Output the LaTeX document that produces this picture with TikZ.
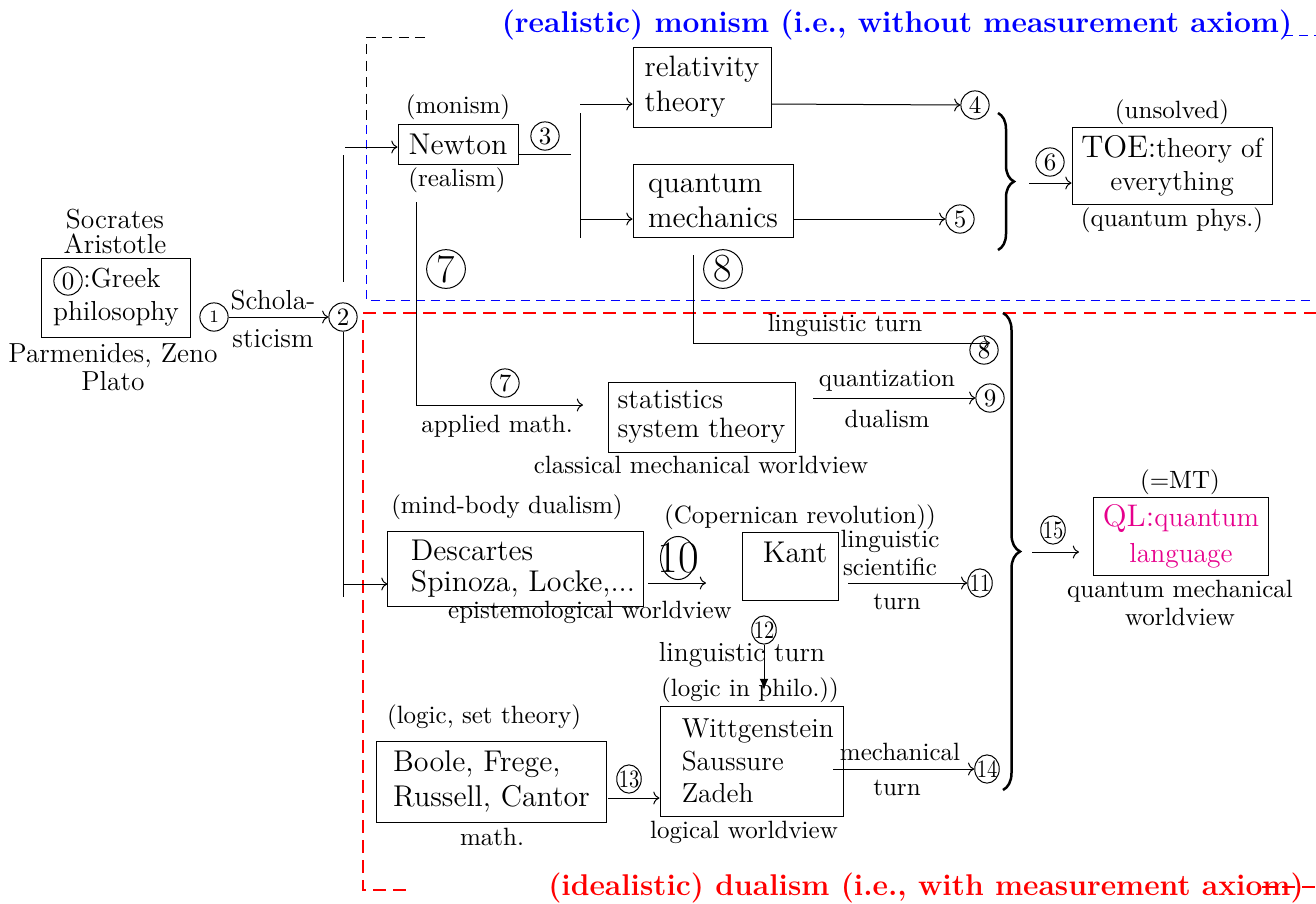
\documentclass[tikz,border=0pt]{standalone}
\usepackage{graphicx}
\usetikzlibrary{shapes.geometric,decorations.pathreplacing,arrows.meta}
\definecolor{qlpink}{RGB}{230,0,140}
\newcommand{\twodig}[1]{\makebox[0pt]{\scalebox{0.82}[1]{#1}}}
\tikzset{
 boxs/.style={draw, rectangle, inner sep=2pt, font=\fontsize{12}{14}\selectfont},
 lbl/.style={inner sep=0.5pt, font=\fontsize{10}{12}\selectfont, align=center},
 lbm/.style={inner sep=0.5pt, font=\fontsize{11}{11}\selectfont, align=center},
 cn/.style={draw, circle, inner sep=0pt, minimum size=11.3pt, font=\fontsize{10}{10}\selectfont},
 cnn/.style={draw, ellipse, inner sep=0pt, minimum width=9.8pt, minimum height=11.3pt, font=\fontsize{10}{10}\selectfont},
 bigc/.style={draw, circle, inner sep=0pt, minimum size=15.5pt, font=\fontsize{16}{16}\selectfont},
 ttl/.style={inner sep=0pt, font=\fontsize{12}{14}\selectfont\bfseries},
 bkdash/.style={dash pattern=on 4pt off 2.6pt},
 bldash/.style={blue, dash pattern=on 3.6pt off 2.4pt},
 rddash/.style={red, line width=1.1pt, dash pattern=on 5pt off 3pt},
 brc/.style={decorate, line width=1pt},
}
\begin{document}
\begin{tikzpicture}[x=0.4pt,y=-0.4pt]
\useasboundingbox (0,0) rectangle (1316,903);

% ---------- titles and region borders
\node[ttl, text=blue] (tblue) at (897,25) {(realistic) monism (i.e., without measurement axiom)};
\node[ttl, text=red] (tred) at (926,888) {(idealistic) dualism (i.e., with measurement axiom)};
\coordinate (b0) at (425,37);
\coordinate (b1) at (366,37);
\coordinate (b2) at (366,125);
\coordinate (b3) at (366,300);
\coordinate (b4) at (1316,300);
\draw[bkdash] (b0) -- (b1) -- (b2);
\draw[bldash] (b2) -- (b3) -- (b4);
\coordinate (b5) at (1284,35);
\coordinate (b6) at (1316,35);
\draw[bldash] (b5) -- (b6);
\coordinate (r0) at (1316,313);
\coordinate (r1) at (363,313);
\coordinate (r2) at (363,890);
\coordinate (r3) at (412,890);
\draw[rddash] (r0) -- (r1) -- (r2) -- (r3);
\coordinate (r4) at (1262,887);
\coordinate (r5) at (1316,887);
\draw[rddash] (r4) -- (r5);

% ---------- Greek philosophy
\node[lbm, font=\fontsize{11}{10}\selectfont] (soc) at (115,231) {Socrates\\Aristotle};
\node[boxs, align=center, font=\fontsize{11}{13.2}\selectfont, minimum width=59.2pt, minimum height=31.6pt] (greek) at (116,297.5) {\hspace*{4.8pt}:Greek\\philosophy};
\node[cn] (c0) at (68,281) {0};
\node[lbm] (par) at (113,367) {Parmenides, Zeno\\Plato};
\node[cn, font=\fontsize{7}{7}\selectfont] (c1) at (214,317) {1};
\node[cn] (c2) at (343,317) {2};
\draw[->] (c1) -- (c2);
\node[lbm] (sch) at (273,300) {Schola-};
\node[lbm] (sti) at (273,339) {sticism};

% ---------- trunk lines from 2
\coordinate (v1) at (343,155);
\coordinate (v2) at (343,282);
\draw (v1) -- (v2);
\coordinate (v3) at (343,597);
\draw (c2.south) -- (v3);
\coordinate (na) at (345,147);
\coordinate (da) at (343,584);

% ---------- Newton branch
\node[boxs, minimum width=48pt, minimum height=16pt] (newton) at (458,144) {Newton};
\draw[->] (na) -- (na -| newton.west);
\node[lbl] (monism) at (458,107) {(monism)};
\node[lbl] (realism) at (457,180) {(realism)};
\node[cn] (c3) at (545,136) {3};
\coordinate (n3) at (571,154);
\draw (newton.east |- n3) -- (n3);
\coordinate (v4) at (580,113);
\coordinate (v5) at (580,238);
\draw (v4) -- (v5);
\node[boxs, align=left, font=\fontsize{11.8}{14}\selectfont, minimum width=55.2pt, minimum height=32pt] (rel) at (702,87) {relativity\\theory};
\node[boxs, align=left, minimum width=64pt, minimum height=29.2pt] (qm) at (713,200.5) {quantum\\mechanics};
\coordinate (ra) at (580,104);
\coordinate (qa) at (580,219);
\draw[->] (ra) -- (ra -| rel.west);
\draw[->] (qa) -- (qa -| qm.west);
\node[cn] (c4) at (975,105) {4};
\node[cn] (c5) at (960,219) {5};
\draw[->] (rel.east |- ra) -- (c4.west);
\draw[->] (qm.east |- qa) -- (c5.west);
\coordinate (br1) at (998,113);
\coordinate (br2) at (998,250);
\draw[brc, decoration={brace, amplitude=6.4pt}] (br1) -- (br2);
\node[boxs, align=center, font=\fontsize{11}{13.2}\selectfont, minimum width=80pt, minimum height=30.8pt] (toe) at (1172,165.5) {{\fontsize{12.5}{13}\selectfont TOE:}theory of\\everything};
\node[lbl] (unsolved) at (1172,112) {(unsolved)};
\node[lbl] (qphys) at (1172,220) {(quantum phys.)};
\node[cn] (c6) at (1050,162) {6};
\coordinate (a6) at (1029,183);
\draw[->] (a6) -- (toe.west |- a6);

% ---------- big circled 7 and 8
\node[bigc] (big7) at (446,269) {7};
\node[bigc] (big8) at (723,269) {8};

% ---------- 7: applied math
\coordinate (s1) at (416,202);
\coordinate (s2) at (416,405);
\coordinate (s3) at (583,405);
\draw (s1) -- (s2);
\draw[->] (s2) -- (s3);
\node[cn] (c7) at (505,383) {7};
\node[lbl] (appl) at (497,426) {applied math.};

% ---------- 8: linguistic turn
\coordinate (t1) at (693,255);
\coordinate (t2) at (693,343);
\coordinate (t3) at (990,343);
\node[cn] (c8) at (984,350) {8};
\draw (t1) -- (t2);
\draw[->] (t2) -- (t3);
\node[lbl] (lt1) at (845,325) {linguistic turn};

% ---------- statistics
\node[boxs, align=left, font=\fontsize{11.2}{11.5}\selectfont, minimum width=74.8pt, minimum height=28pt] (stats) at (701.5,417) {statistics\\system theory};
\node[lbl] (cmw) at (701,465) {classical mechanical worldview};
\coordinate (q1) at (813,398);
\node[cn] (c9) at (990,398) {9};
\draw[->] (q1) -- (c9.west);
\node[lbl] (quant) at (887,381) {quantization};
\node[lbl] (dual) at (887,419) {dualism};

% ---------- big brace and QL
\coordinate (bb1) at (1003,313);
\coordinate (bb2) at (1003,790);
\draw[brc, decoration={brace, amplitude=6.8pt}] (bb1) -- (bb2);
\coordinate (a15) at (1032,552);
\coordinate (a15e) at (1079,552);
\draw[->] (a15) -- (a15e);
\node[cnn] (c15) at (1053,530) {\twodig{15}};
\node[boxs, align=center, text=qlpink, font=\fontsize{11}{14.5}\selectfont, minimum width=70pt, minimum height=31.2pt] (ql) at (1181,536) {{\fontsize{12.5}{13}\selectfont QL:}quantum\\language};
\node[lbl] (mt) at (1180,482) {(=MT)};
\node[lbl, font=\fontsize{10}{11}\selectfont] (qmw) at (1180,603) {quantum mechanical\\worldview};

% ---------- Descartes, Kant
\node[lbl] (mbd) at (507,507) {(mind-body dualism)};
\node[boxs, align=left, font=\fontsize{12}{12.5}\selectfont, minimum width=102pt, minimum height=30pt] (desc) at (515.5,568.5) {\hspace*{6pt}Descartes\\\hspace*{6pt}Spinoza, Locke,...};
\draw[->] (da) -- (da -| desc.west);
\node[lbl] (epi) at (590,612) {epistemological worldview};
\coordinate (e1) at (648,583);
\coordinate (e2) at (706,583);
\draw[->] (e1) -- (e2);
\node[draw, ellipse, inner sep=0pt, minimum width=14pt, minimum height=16.5pt, font=\fontsize{18}{18}\selectfont] (big10) at (678,558) {\makebox[0pt]{10}};
\node[lbl] (cop) at (800,517) {(Copernican revolution))};
\node[boxs, inner sep=0pt, text height=12pt, text depth=15.2pt, minimum width=38.4pt] (kant) at (790,566) {\hspace*{4pt}Kant};
\coordinate (k1) at (848,583);
\node[cnn] (c11) at (980,583) {\twodig{11}};
\draw[->] (k1) -- (c11.west);
\node[lbl, font=\fontsize{10}{11.5}\selectfont] (lsc) at (890,553) {linguistic\\scientific};
\node[lbl] (turn1) at (897,602) {turn};
\node[cnn] (c12) at (764,630) {\twodig{12}};
\coordinate (k3) at (764,690);
\draw[-{Latex[length=4.5pt,width=3.5pt]}] (c12.south) -- (k3);
\node[lbm] (lt2) at (742,655) {linguistic turn};
\node[lbl] (lip) at (750,690) {(logic in philo.))};

% ---------- Boole, Wittgenstein
\node[lbl] (lst) at (484,717) {(logic, set theory)};
\node[boxs, align=left, font=\fontsize{12}{14}\selectfont, minimum width=91.6pt, minimum height=32.4pt] (boole) at (491.5,781.5) {Boole, Frege,\\Russell, Cantor};
\node[lbl] (math) at (492,837) {math.};
\node[boxs, align=left, font=\fontsize{11}{13}\selectfont, minimum width=73.2pt, minimum height=44pt] (wit) at (751.5,761) {\hspace*{5pt}Wittgenstein\\\hspace*{5pt}Saussure\\\hspace*{5pt}Zadeh};
\node[lbl] (lwv) at (744,832) {logical worldview};
\coordinate (m1) at (608,798);
\draw[->] (m1) -- (wit.west |- m1);
\node[cnn] (c13) at (629,779) {\twodig{13}};
\coordinate (w1) at (833,769);
\node[cnn] (c14) at (987,769) {\twodig{14}};
\draw[->] (w1) -- (c14.west);
\node[lbl] (mech) at (900,752) {mechanical};
\node[lbl] (turn2) at (897,788) {turn};
\end{tikzpicture}
\end{document}
